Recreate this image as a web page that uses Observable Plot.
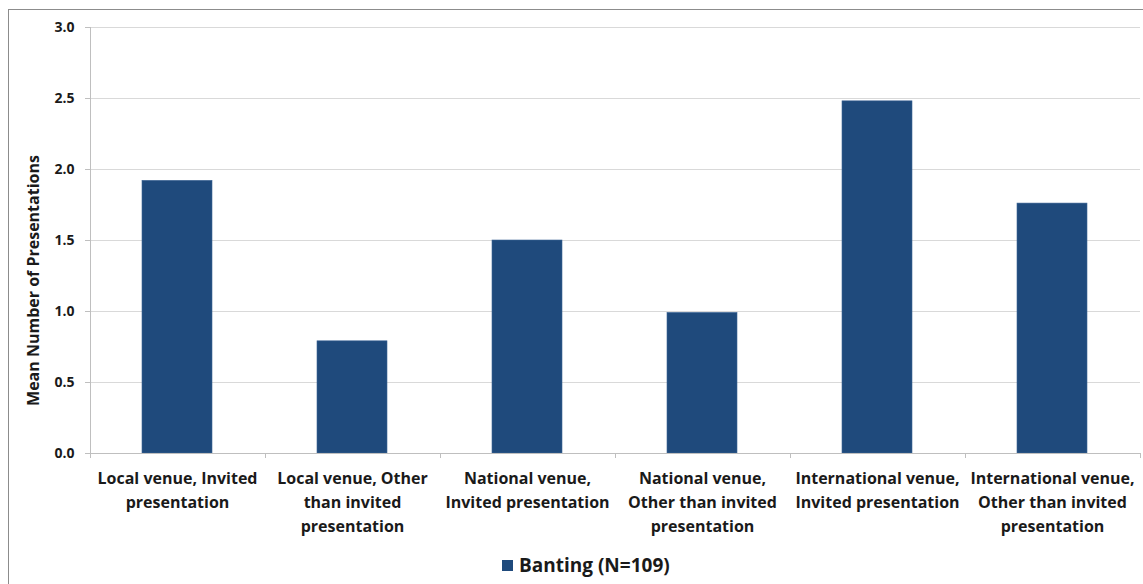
<!DOCTYPE html>
<html>
<head>
<meta charset="utf-8">
<script src="https://cdn.jsdelivr.net/npm/d3@7"></script>
<script src="https://cdn.jsdelivr.net/npm/@observablehq/plot@0.6"></script>
<style>
  html, body { margin: 0; padding: 0; background: #fff; }
  body { width: 1143px; height: 584px; position: relative; overflow: hidden; font-family: "Open Sans", Lato, sans-serif; }
  #frame { position: absolute; left: 8px; top: 9px; width: 1200px; height: 700px; border: 1px solid #8c8c8c; box-sizing: border-box; }
  #chart { position: absolute; left: 0; top: 0; }
  #legend { position: absolute; left: 502px; top: 552px; height: 26px; display: flex; align-items: center; font: bold 19px "Open Sans", sans-serif; color: #1a1a1a; }
  #legend .sw { width: 11px; height: 11px; background: #1f4a7c; margin-right: 6px; }
</style>
</head>
<body>
<div id="frame"></div>
<div id="chart"></div>
<div id="legend"><span class="sw"></span><span id="legtext"></span></div>
<script>
const categories = ["LVI", "LVO", "NVI", "NVO", "IVI", "IVO"];
const categoryLabels = [
  "Local venue, Invited\npresentation",
  "Local venue, Other\nthan invited\npresentation",
  "National venue,\nInvited presentation",
  "National venue,\nOther than invited\npresentation",
  "International venue,\nInvited presentation",
  "International venue,\nOther than invited\npresentation"
];
const values = [1.92, 0.79, 1.50, 0.99, 2.48, 1.76];
const yTicks = [0, 0.5, 1.0, 1.5, 2.0, 2.5, 3.0];
const seriesName = "Banting (N=109)";
const yLabel = "Mean Number of Presentations";

const data = categories.map((c, i) => ({cat: c, value: values[i]}));
const labelOf = new Map(categories.map((c, i) => [c, categoryLabels[i]]));

const W = 1143, H = 540;
const mL = 90, mR = 3, mT = 27, mB = 87;
const axisColor = "#bfbfbf";

const boundaryTicks = (index, scales, vals, dims) => {
  const band = d3.scaleBand().domain(categories)
    .range([dims.marginLeft, dims.width - dims.marginRight])
    .paddingInner(0.6).paddingOuter(0.3);
  const step = band.step();
  const y0 = dims.height - dims.marginBottom;
  const g = d3.create("svg:g").attr("stroke", axisColor).attr("stroke-width", 1);
  const xs = categories.map(c => band(c) + band.bandwidth() / 2 - step / 2);
  xs.push(dims.width - dims.marginRight);
  for (const x of xs) {
    g.append("line").attr("x1", Math.round(x) + 0.5).attr("x2", Math.round(x) + 0.5)
      .attr("y1", y0).attr("y2", y0 + 5);
  }
  g.append("line").attr("x1", dims.marginLeft + 0.5).attr("x2", dims.marginLeft + 0.5)
    .attr("y1", dims.marginTop).attr("y2", y0);
  return g.node();
};

const plot = Plot.plot({
  width: W,
  height: H,
  marginLeft: mL,
  marginRight: mR,
  marginTop: mT,
  marginBottom: mB,
  style: {fontFamily: "'Open Sans', Lato, sans-serif", fontWeight: "bold", color: "#1a1a1a", background: "transparent"},
  x: {domain: categories, paddingInner: 0.6, paddingOuter: 0.3, label: null},
  y: {domain: [0, 3], label: null},
  marks: [
    Plot.ruleY(yTicks, {stroke: "#d9d9d9", strokeWidth: 1.2}),
    Plot.axisY({ticks: yTicks, tickFormat: d3.format(".1f"), tickSize: 5, tickPadding: 11, fontSize: 14, stroke: axisColor, label: null}),
    Plot.axisX({tickSize: 0, tickPadding: 13, tickFormat: d => labelOf.get(d), fontSize: 16, lineHeight: 1.5, label: null}),
    Plot.barY(data, {x: "cat", y: "value", fill: "#1f4a7c", stroke: "#3d6595", strokeWidth: 0.6}),
    Plot.ruleY([0], {stroke: axisColor, strokeWidth: 1.2}),
    boundaryTicks,
    Plot.text([yLabel], {text: d => d, frameAnchor: "left", textAnchor: "middle", rotate: -90, dx: -57, dy: 40, fontSize: 16, fontWeight: "bold", fill: "#1a1a1a"})
  ]
});
document.getElementById("chart").appendChild(plot);
document.getElementById("legtext").textContent = seriesName;
</script>
</body>
</html>
